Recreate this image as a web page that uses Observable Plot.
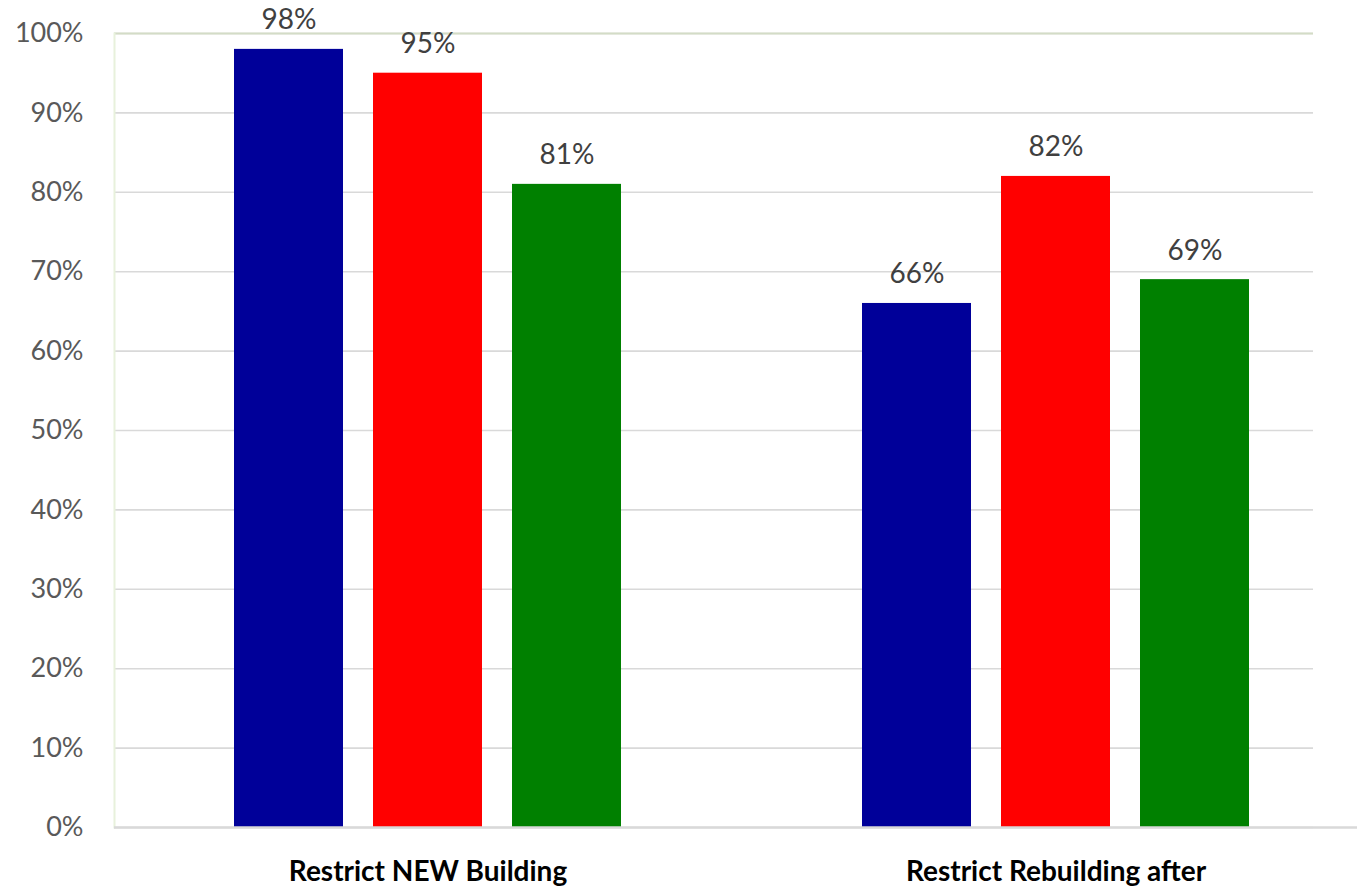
<!DOCTYPE html>
<html>
<head>
<meta charset="utf-8">
<script src="https://cdn.jsdelivr.net/npm/d3@7"></script>
<script src="https://cdn.jsdelivr.net/npm/@observablehq/plot@0.6"></script>
<style>
  html, body { margin: 0; padding: 0; background: #fff; }
  #chart svg { display: block; }
</style>
</head>
<body>
<div id="chart"></div>
<script>
const categories = ["Restrict NEW Building", "Restrict Rebuilding after"];
const seriesNames = ["Series 1", "Series 2", "Series 3"];
const seriesColors = ["#000099", "#ff0000", "#008000"];
const series1 = [0.98, 0.66];
const series2 = [0.95, 0.82];
const series3 = [0.81, 0.69];
const yTicks = [0, 0.1, 0.2, 0.3, 0.4, 0.5, 0.6, 0.7, 0.8, 0.9, 1.0];

const seriesValues = [series1, series2, series3];
const rows = seriesValues.map((vals, i) =>
  categories.map((c, j) => ({category: c, series: seriesNames[i], value: vals[j]}))
);

const step = 139, barW = 109, band = 628;
const inset = (band - barW) / 2;

const marks = [
  Plot.gridY(yTicks, {stroke: "#d9d9d9", strokeOpacity: 1, strokeWidth: 1.6}),
  Plot.ruleY([1], {stroke: "#d3dcc6", strokeWidth: 2}),
  Plot.frame({anchor: "left", stroke: "#e8f1dc", strokeWidth: 2}),
  Plot.axisY(yTicks, {tickFormat: d3.format(".0%"), tickSize: 0, tickPadding: 31,
    fontSize: 27, fill: "#595959", fontFamily: "Lato", label: null}),
  Plot.axisX({tickSize: 0, tickPadding: 34, fontSize: 28, fontWeight: "bold",
    fill: "#000", fontFamily: "Lato", label: null})
];
rows.forEach((data, i) => {
  const dx = (i - 1) * step;
  marks.push(Plot.barY(data, {x: "category", y: "value", fill: seriesColors[i],
    insetLeft: inset + dx, insetRight: inset - dx}));
  marks.push(Plot.text(data, {x: "category", y: "value", text: d => d3.format(".0%")(d.value),
    dx, dy: -20, lineAnchor: "bottom", fontSize: 28, fill: "#404040", fontFamily: "Lato"}));
});
marks.push(Plot.ruleY([0], {stroke: "#d9d9d9", strokeWidth: 2.5, insetRight: -44}));

const chart = Plot.plot({
  width: 1357,
  height: 886,
  marginLeft: 114,
  marginRight: 44,
  marginTop: 33,
  marginBottom: 59,
  style: {fontFamily: "Lato", background: "#fff", overflow: "visible"},
  x: {domain: categories, range: [113.5, 1369.5], padding: 0, round: false},
  y: {domain: [0, 1], axis: null},
  marks
});
document.getElementById("chart").append(chart);
</script>
</body>
</html>
